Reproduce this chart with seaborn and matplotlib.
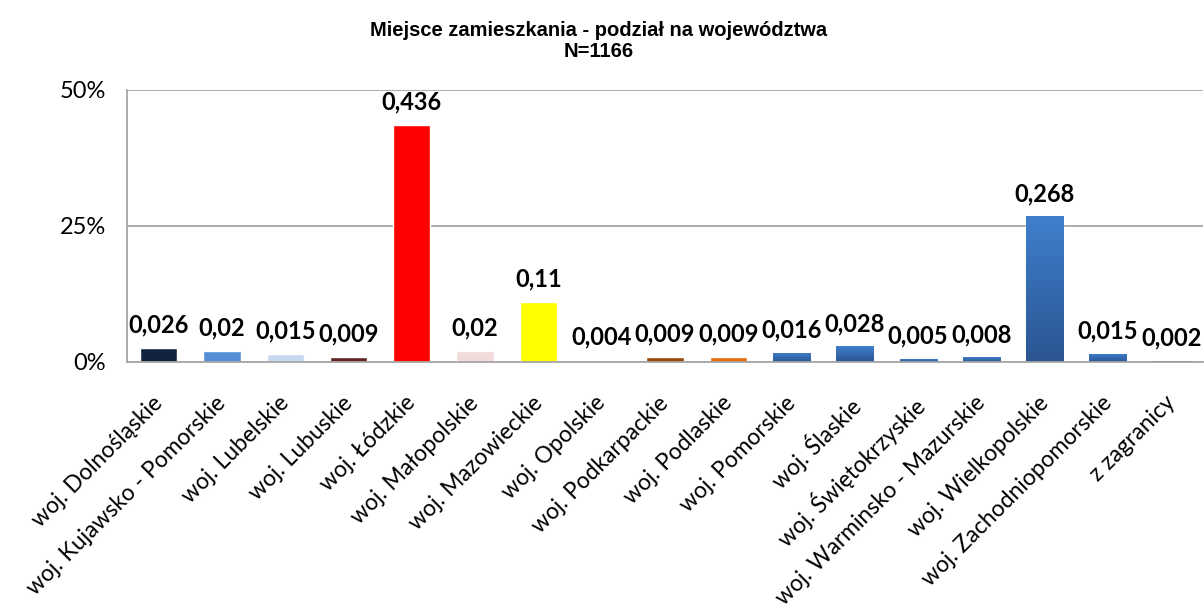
import numpy as np
import pandas as pd
import seaborn as sns
import matplotlib.pyplot as plt
import matplotlib.transforms as mtransforms
from matplotlib.colors import LinearSegmentedColormap
from matplotlib.ticker import PercentFormatter

# data
regions = [
    "woj. Dolnośląskie", "woj. Kujawsko - Pomorskie", "woj. Lubelskie",
    "woj. Lubuskie", "woj. Łódzkie", "woj. Małopolskie", "woj. Mazowieckie",
    "woj. Opolskie", "woj. Podkarpackie", "woj. Podlaskie", "woj. Pomorskie",
    "woj. Ślaskie", "woj. Świętokrzyskie", "woj. Warminsko - Mazurskie",
    "woj. Wielkopolskie", "woj. Zachodniopomorskie", "z zagranicy",
]
shares = [0.026, 0.02, 0.015, 0.009, 0.436, 0.02, 0.11, 0.004, 0.009,
          0.009, 0.016, 0.028, 0.005, 0.008, 0.268, 0.015, 0.002]
bar_colors = ["#13233f", "#558ed5", "#c6d9f0", "#632423", "#ff0000", "#f2dcdb",
              "#ffff00", "#c3d69b", "#984807", "#e46c0a", "#3b76c2", "#3b76c2",
              "#3b76c2", "#3b76c2", "#3b76c2", "#3b76c2", "#3b76c2"]
gradient_bars = [10, 11, 12, 13, 14, 15, 16]

sns.set_theme(style="white")
plt.rcParams['font.family'] = ['Lato', 'DejaVu Sans']
plt.rcParams['text.color'] = 'black'
plt.rcParams['xtick.color'] = 'black'
plt.rcParams['ytick.color'] = 'black'

fig = plt.figure(figsize=(12.04, 6.10), dpi=100)
ax = fig.add_axes([127 / 1204, 1 - 361.7 / 610, (1203 - 127) / 1204, (361.7 - 90) / 610])

df = pd.DataFrame({"region": regions, "share": shares})
sns.barplot(data=df, x="region", y="share", hue="region", palette=bar_colors,
            legend=False, width=0.59, saturation=1, ax=ax, zorder=2)

# blue bars get a vertical gradient like the excel original
blue_cmap = LinearSegmentedColormap.from_list("blues", ["#2b5592", "#3f7fcc"])
grad = np.linspace(0, 1, 100).reshape(-1, 1)
for i in gradient_bars:
    p = ax.patches[i]
    x0, w, h = p.get_x(), p.get_width(), p.get_height()
    im = ax.imshow(grad, extent=[x0, x0 + w, 0, h], origin="lower", cmap=blue_cmap,
                   aspect="auto", zorder=2.5)
    im.set_clip_path(p)

# value labels
for i, v in enumerate(shares):
    ax.annotate(f"{v:g}".replace(".", ","), (i, v), xytext=(0, 8),
                textcoords="offset points", ha="center", va="bottom",
                fontsize=17, fontweight="bold", color="black", zorder=5)

ax.set_xlim(-0.5, len(regions) - 0.5)
ax.set_ylim(0, 0.5)
ax.set_yticks([0, 0.25, 0.5])
ax.yaxis.set_major_formatter(PercentFormatter(1, decimals=0))
ax.yaxis.grid(True, color="#a6a6a6", linewidth=1.3, zorder=0)
ax.set_axisbelow(True)

for s in ["top", "right"]:
    ax.spines[s].set_visible(False)
for s in ["left", "bottom"]:
    ax.spines[s].set_color("#a6a6a6")
    ax.spines[s].set_linewidth(1.3)

ax.set_xticks(np.arange(len(regions) + 1) - 0.5, minor=True)
ax.tick_params(axis="x", which="minor", length=8, color="#a6a6a6", width=1.3, direction="out")
ax.tick_params(axis="x", which="major", length=0, pad=22)
ax.tick_params(axis="y", length=8, color="#a6a6a6", width=1.3, direction="out", labelsize=17, pad=7)
ax.set_xticks(range(len(regions)))
ax.set_xticklabels(regions, rotation=45, ha="right", rotation_mode="anchor", fontsize=16.5)
shift = mtransforms.ScaledTranslation(-7 / 100, 0, fig.dpi_scale_trans)
for lab in ax.get_xticklabels():
    lab.set_transform(lab.get_transform() + shift)
ax.set_xlabel("")
ax.set_ylabel("")

fig.text(0.497, 1 - 41 / 610, "Miejsce zamieszkania - podział na województwa\nN=1166",
         ha="center", va="center", fontsize=14.5, fontweight="bold", linespacing=1.15,
         family=["Liberation Sans Narrow", "Liberation Sans", "DejaVu Sans"])

fig.savefig("out.png", dpi=100)
